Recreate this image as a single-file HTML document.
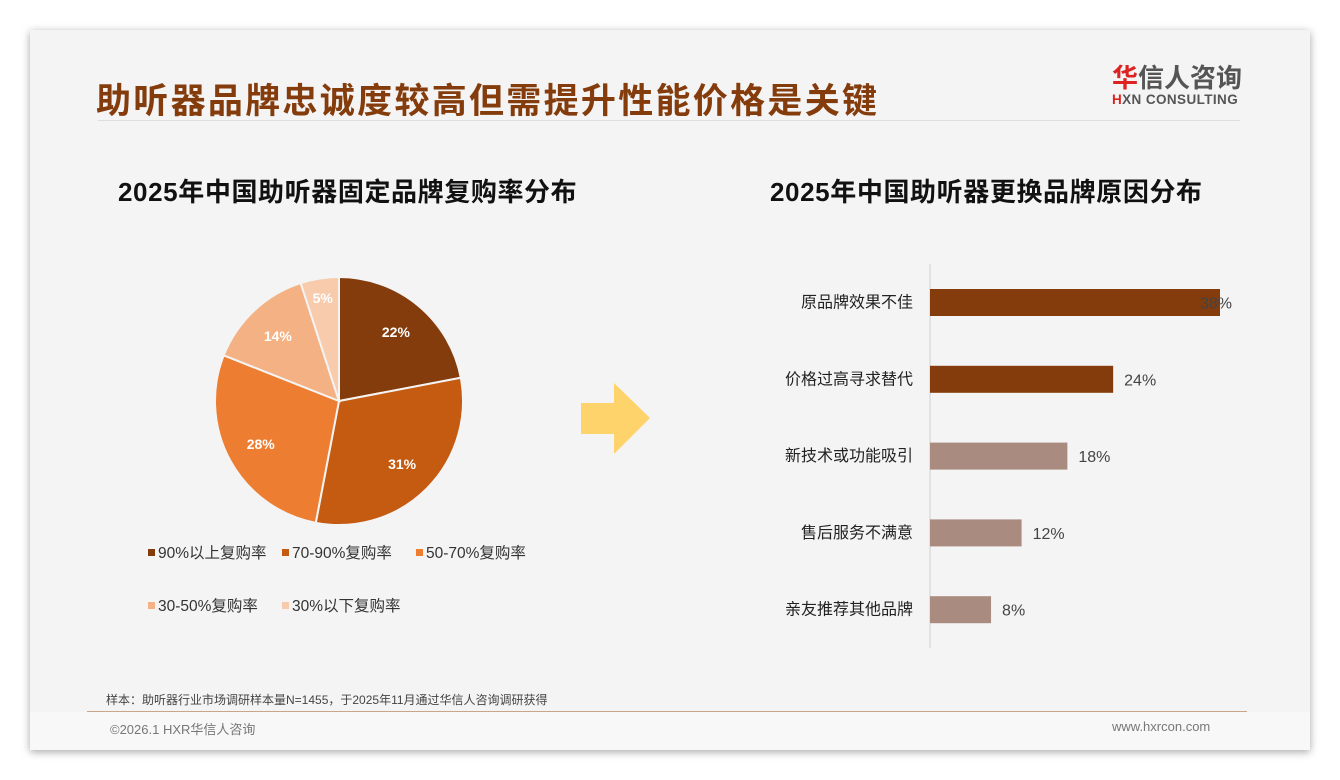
<!DOCTYPE html>
<html><head><meta charset="utf-8">
<style>
*{margin:0;padding:0;box-sizing:border-box}
body{width:1340px;height:780px;background:#fff;position:relative;overflow:hidden;font-family:"Liberation Sans","Noto Sans CJK SC",sans-serif}
#slide{position:absolute;left:30px;top:30px;width:1280px;height:720px;background:#f4f4f4;box-shadow:0 2px 8px rgba(0,0,0,.35)}
.abs{position:absolute}
</style></head><body>
<div id="slide">
  <div class="abs" style="left:66px;top:43px;font-size:35px;font-weight:bold;color:#843c0c;letter-spacing:2.3px">助听器品牌忠诚度较高但需提升性能价格是关键</div>
  <div class="abs" style="left:1082px;top:34px;width:140px">
    <div style="font-size:26px;font-weight:bold;color:#555;line-height:28px"><span style="color:#d22">华</span>信人咨询</div>
    <div style="font-size:13.5px;font-weight:bold;color:#555;letter-spacing:.4px"><span style="color:#d22">H</span>XN CONSULTING</div>
  </div>
  <div class="abs" style="left:68px;top:90px;width:1142px;height:1px;background:#ddd"></div>
  <div class="abs" style="left:88px;top:142px;font-size:26px;font-weight:bold;color:#111;letter-spacing:0.6px">2025年中国助听器固定品牌复购率分布</div>
  <div class="abs" style="left:740px;top:142px;font-size:26px;font-weight:bold;color:#111;letter-spacing:0.6px">2025年中国助听器更换品牌原因分布</div>
  <div class="abs" style="left:76px;top:661px;font-size:12px;color:#444">样本：助听器行业市场调研样本量N=1455，于2025年11月通过华信人咨询调研获得</div>
  <div class="abs" style="left:0;top:682px;width:1280px;height:38px;background:#f8f8f8"></div>
  <div class="abs" style="left:57px;top:681px;width:1160px;height:1px;background:#c9a58a"></div>
  <div class="abs" style="left:80px;top:689px;font-size:13px;color:#777">©2026.1 HXR华信人咨询</div>
  <div class="abs" style="left:1082px;top:689px;font-size:13px;color:#777">www.hxrcon.com</div>
</div>
<svg class="abs" style="left:0;top:0" width="1340" height="780" id="chart">
  <polygon points="581,403 614,403 614,383 650,418 614,454 614,434 581,434" fill="#ffd36b"/>
</svg>
<script>
const pieLabels=["90%以上复购率","70-90%复购率","50-70%复购率","30-50%复购率","30%以下复购率"];
const pieValues=[22,31,28,14,5];
const pieColors=["#843c0c","#c55a11","#ed7d31","#f4b183","#f8cbad"];
const barCats=["原品牌效果不佳","价格过高寻求替代","新技术或功能吸引","售后服务不满意","亲友推荐其他品牌"];
const barValues=[38,24,18,12,8];
const barColors=["#843c0c","#843c0c","#a98b80","#a98b80","#a98b80"];
const NS="http://www.w3.org/2000/svg";
const svg=document.getElementById('chart');
function mk(t,a){const e=document.createElementNS(NS,t);for(const k in a)e.setAttribute(k,a[k]);svg.appendChild(e);return e;}
const cx=339,cy=401,r=124;
const total=pieValues.reduce((a,b)=>a+b,0);
let ang=0;
pieValues.forEach((v,i)=>{
  const a0=ang,a1=ang+v/total*2*Math.PI;ang=a1;
  const p=(a,rr)=>[cx+rr*Math.sin(a),cy-rr*Math.cos(a)];
  const [x0,y0]=p(a0,r),[x1,y1]=p(a1,r);
  const el=mk('path',{d:`M${cx},${cy}L${x0},${y0}A${r},${r} 0 ${a1-a0>Math.PI?1:0} 1 ${x1},${y1}Z`,fill:pieColors[i],stroke:'#f4f4f4','stroke-width':2});
  
  
  const [lx,ly]=p((a0+a1)/2,r*(v<10?0.84:0.72));
  const t=mk('text',{x:lx,y:ly+5,'text-anchor':'middle','font-size':14,'font-weight':'bold',fill:'#fff','font-family':'Liberation Sans, sans-serif'});
  t.textContent=v+'%';
  
  
});
const legPos=[[148,553],[282,553],[416,553],[148,606],[282,606]];
pieLabels.forEach((l,i)=>{
  const [x,y]=legPos[i];
  const s=mk('rect',{x:x,y:y-4,width:7,height:7,fill:pieColors[i]});
  
  
  const t=mk('text',{x:x+10,y:y+5,'font-size':15.5,fill:'#333','font-family':'Liberation Sans, Noto Sans CJK SC, sans-serif'});
  t.textContent=l;
  
  
});
const x0=930,pxPer=290/38,top0=289,step=76.8,bh=27;
const ax=mk('line',{x1:x0,y1:264,x2:x0,y2:648,stroke:'#d0d0d0','stroke-width':1});


barCats.forEach((c,i)=>{
  const y=top0+i*step,w=barValues[i]*pxPer;
  const b=mk('rect',{x:x0,y:y,width:w,height:bh,fill:barColors[i]});
  
  
  const t=mk('text',{x:913,y:y+bh/2+5,'text-anchor':'end','font-size':16,fill:'#222','font-family':'Liberation Sans, Noto Sans CJK SC, sans-serif'});
  t.textContent=c;
  
  
  const v=mk('text',{x:x0+w+(i==0?-20:11),y:y+bh/2+6,'font-size':16,fill:'#444','font-family':'Liberation Sans, sans-serif'});
  v.textContent=barValues[i]+'%';
  
  
});
</script>
</body></html>
